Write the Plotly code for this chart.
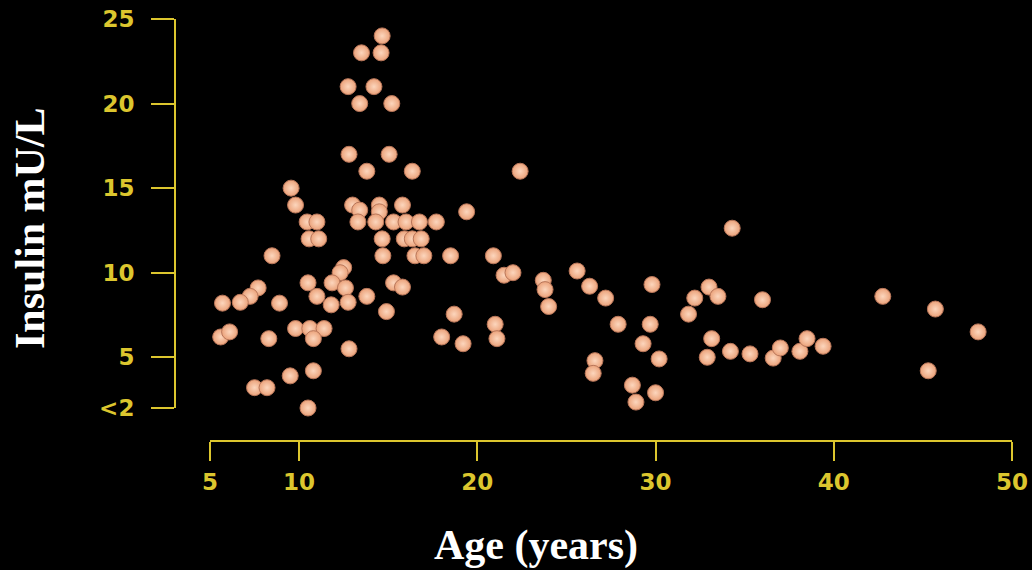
import plotly.graph_objects as go

age = [14.66, 13.5, 14.6, 12.75, 14.2, 13.4, 15.2, 12.8, 15.05, 13.8, 16.35,
       9.55, 9.8, 13.0, 13.4, 14.5, 14.5, 15.8, 19.4,
       10.45, 11.0, 13.3, 14.3, 15.3, 16.0, 16.75, 17.7,
       10.56, 11.1, 14.66, 15.9, 16.35, 16.85,
       8.48, 14.7, 16.5, 17.0, 18.5, 20.9,
       12.5, 12.3, 10.5, 11.85, 12.6, 7.7, 7.25, 6.7, 5.7, 8.9, 11.0, 11.8,
       12.75, 13.8, 15.3, 15.8, 14.9, 18.7, 21.0, 21.1,
       5.6, 6.1, 8.3, 9.8, 10.6, 11.4, 10.8, 12.8, 18.0, 19.2,
       9.5, 10.8, 7.5, 8.2, 10.5,
       22.4, 21.5, 22.0, 23.7, 23.8, 24.0, 25.6, 26.3, 27.2, 29.8, 32.2, 31.85,
       27.9, 29.7, 29.3, 30.2, 26.6, 26.5, 28.7, 30.0, 28.9,
       34.3, 33.0, 33.5, 36.0, 33.15, 32.9, 34.2, 35.3, 36.6, 37.0, 38.1, 38.5,
       39.4, 42.75, 45.7, 48.1, 45.3]
insulin = [24, 23, 23, 21, 21, 20, 20, 17, 17, 16, 16,
           15, 14, 14, 13.7, 14, 13.6, 14, 13.6,
           13, 13, 13, 13, 13, 13, 13, 13,
           12, 12, 12, 12, 12, 12,
           11, 11, 11, 11, 11, 11,
           10.3, 10, 9.4, 9.4, 9.1, 9.1, 8.6, 8.25, 8.2, 8.2, 8.6, 8.1,
           8.25, 8.6, 9.4, 9.15, 7.7, 7.55, 6.95, 6.1,
           6.2, 6.5, 6.1, 6.7, 6.7, 6.7, 6.1, 5.5, 6.2, 5.8,
           3.9, 4.2, 3.2, 3.2, 2,
           16, 9.85, 10.0, 9.55, 9.0, 8.0, 10.1, 9.2, 8.5, 9.3, 8.5, 7.55,
           6.95, 6.95, 5.8, 4.9, 4.8, 4.05, 3.35, 2.9, 2.35,
           12.63, 9.15, 8.6, 8.4, 6.1, 5.0, 5.35, 5.2, 4.95, 5.55, 5.35, 6.1,
           5.65, 8.6, 7.85, 6.5, 4.2]

x_ticks = [5, 10, 20, 30, 40, 50]
x_ticktext = ["5", "10", "20", "30", "40", "50"]
y_ticks = [2, 5, 10, 15, 20, 25]
y_ticktext = ["<2", "5", "10", "15", "20", "25"]

W, H = 1032, 570
axis_col = "#dcc62e"
tick_font = dict(family="DejaVu Sans", size=23, color=axis_col, weight="bold")

fig = go.Figure()
fig.add_trace(go.Scatter(
    x=age, y=insulin, mode="markers", cliponaxis=False,
    marker=dict(size=16, color="#eba27a",
                gradient=dict(type="radial", color="#fcd6bd"),
                line=dict(color="#b8765a", width=1)),
    hoverinfo="x+y", showlegend=False))

fig.update_layout(
    width=W, height=H,
    margin=dict(l=0, r=0, t=0, b=0, pad=0, autoexpand=False),
    paper_bgcolor="black", plot_bgcolor="black",
    xaxis=dict(domain=[210 / W, 1012 / W], range=[5, 50],
               anchor="free", position=(H - 441) / H, automargin=False,
               showline=True, linecolor=axis_col, linewidth=2,
               ticks="outside", ticklen=19, tickwidth=2, tickcolor=axis_col,
               ticklabelstandoff=1,
               tickvals=x_ticks, ticktext=x_ticktext, tickfont=tick_font,
               showgrid=False, zeroline=False),
    yaxis=dict(domain=[(H - 408) / H, (H - 19) / H], range=[2, 25],
               anchor="free", position=175 / W, automargin=False,
               showline=True, linecolor=axis_col, linewidth=2,
               ticks="outside", ticklen=23, tickwidth=2, tickcolor=axis_col,
               ticklabelstandoff=12,
               tickvals=y_ticks, ticktext=y_ticktext, tickfont=tick_font,
               showgrid=False, zeroline=False),
    annotations=[
        dict(text="<b>Age (years)</b>", xref="paper", yref="paper",
             x=536 / W, y=(H - 545) / H, showarrow=False,
             xanchor="center", yanchor="middle",
             font=dict(family="Liberation Serif", size=42, color="white")),
        dict(text="<b>Insulin mU/L</b>", xref="paper", yref="paper",
             x=30 / W, y=(H - 228) / H, showarrow=False, textangle=-90,
             xanchor="center", yanchor="middle",
             font=dict(family="Liberation Serif", size=42, color="white")),
    ],
)

fig.write_html("out.html")
